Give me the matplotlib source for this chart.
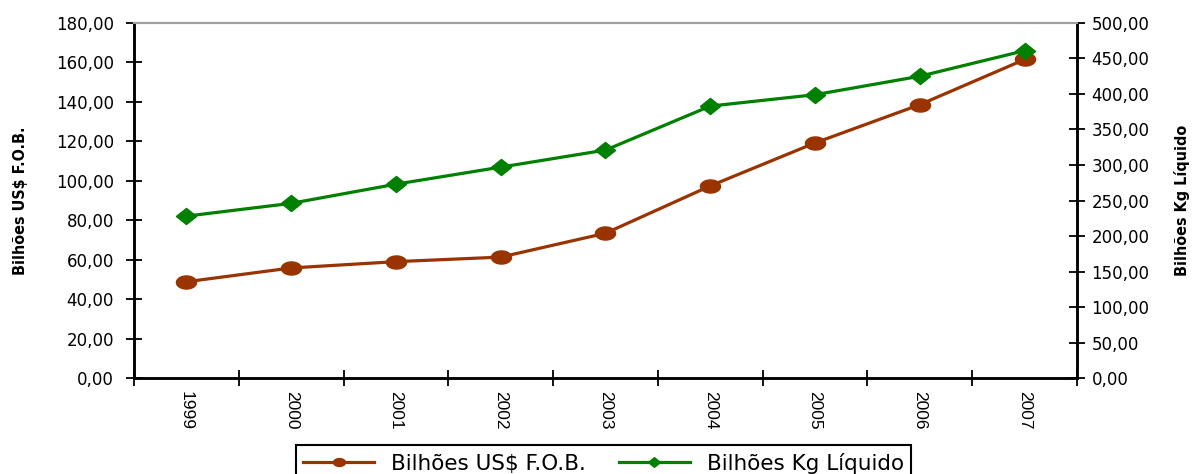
import numpy as np
import matplotlib
matplotlib.use('Agg')
import matplotlib.pyplot as plt
from matplotlib.ticker import FuncFormatter, MultipleLocator

anos = ["1999", "2000", "2001", "2002", "2003", "2004", "2005", "2006", "2007"]
fob = [48.8, 55.8, 59.0, 61.3, 73.4, 97.4, 119.2, 138.6, 161.5]     # Bilhões US$ F.O.B.
kg = [228, 246, 273, 297, 321, 383, 399, 425, 461]                  # Bilhões Kg Líquido

brown = "#993300"
green = "#008000"
fonte = ["Liberation Sans", "DejaVu Sans"]
fonte_larga = ["DejaVu Sans"]

plt.rcParams['font.family'] = fonte

# markers look horizontally stretched in the original
t = np.linspace(0, 2 * np.pi, 40)
elipse = list(zip(np.cos(t), 0.65 * np.sin(t)))
losango = [(-1, 0), (0, 0.8), (1, 0), (0, -0.8), (-1, 0)]


def virgula(v, pos):
    return ("%.2f" % v).replace(".", ",")


fig = plt.figure(figsize=(11.96, 4.74), dpi=100)
ax = fig.add_axes([0.112, 0.2025, 0.7885, 0.749])
ax2 = ax.twinx()

x = list(range(len(anos)))
l1, = ax.plot(x, fob, color=brown, lw=2.3, marker=elipse, ms=14.5, mec=brown, label="Bilhões US$ F.O.B.")
l2, = ax2.plot(x, kg, color=green, lw=2.3, marker=losango, ms=14.5, mec=green, label="Bilhões Kg Líquido")

ax.set_xlim(-0.5, len(anos) - 0.5)
ax.set_ylim(0, 180)
ax2.set_ylim(0, 500)
ax.yaxis.set_major_locator(MultipleLocator(20))
ax2.yaxis.set_major_locator(MultipleLocator(50))
ax.yaxis.set_major_formatter(FuncFormatter(virgula))
ax2.yaxis.set_major_formatter(FuncFormatter(virgula))

# ticks between categories, labels centered
ax.set_xticks([i - 0.5 for i in range(len(anos) + 1)])
ax.set_xticklabels([])
ax.set_xticks(x, minor=True)
ax.set_xticklabels(anos, minor=True, rotation=270, fontsize=12.5)
ax.tick_params(axis="x", which="minor", length=0, pad=9)
ax.tick_params(axis="x", which="major", direction="inout", length=11, width=1.3)
ax.tick_params(axis="y", direction="inout", length=11, width=1.3, pad=9)
ax2.tick_params(axis="y", direction="inout", length=11, width=1.3, pad=5)
for lb in ax.get_yticklabels() + ax2.get_yticklabels():
    lb.set_family(fonte_larga)
    lb.set_fontsize(12)

for a in (ax, ax2):
    for s in ("left", "right", "bottom"):
        a.spines[s].set_linewidth(1.8)
        a.spines[s].set_color("black")
    a.spines["top"].set_color("#a0a0a0")
    a.spines["top"].set_linewidth(1.5)

ax.set_ylabel("Bilhões US$ F.O.B.", fontsize=11.5, fontweight="bold", family=fonte_larga, fontstretch="condensed")
ax2.set_ylabel("Bilhões Kg Líquido", fontsize=11.5, fontweight="bold", family=fonte_larga, fontstretch="condensed", rotation=90)
ax.yaxis.set_label_coords(-0.112, 0.5)
ax2.yaxis.set_label_coords(1.103, 0.5)

leg = fig.legend([l1, l2], [l1.get_label(), l2.get_label()], loc="upper center",
                 bbox_to_anchor=(0.5046, 0.061), ncol=2, fancybox=False, borderaxespad=0,
                 prop={"family": fonte_larga, "size": 15.5},
                 edgecolor="black", framealpha=1, handlelength=3.3, handletextpad=0.8,
                 columnspacing=1.5, borderpad=0.35, markerscale=0.6)
leg.get_frame().set_linewidth(1.5)

plt.savefig("out.png", dpi=100)
plt.close()
